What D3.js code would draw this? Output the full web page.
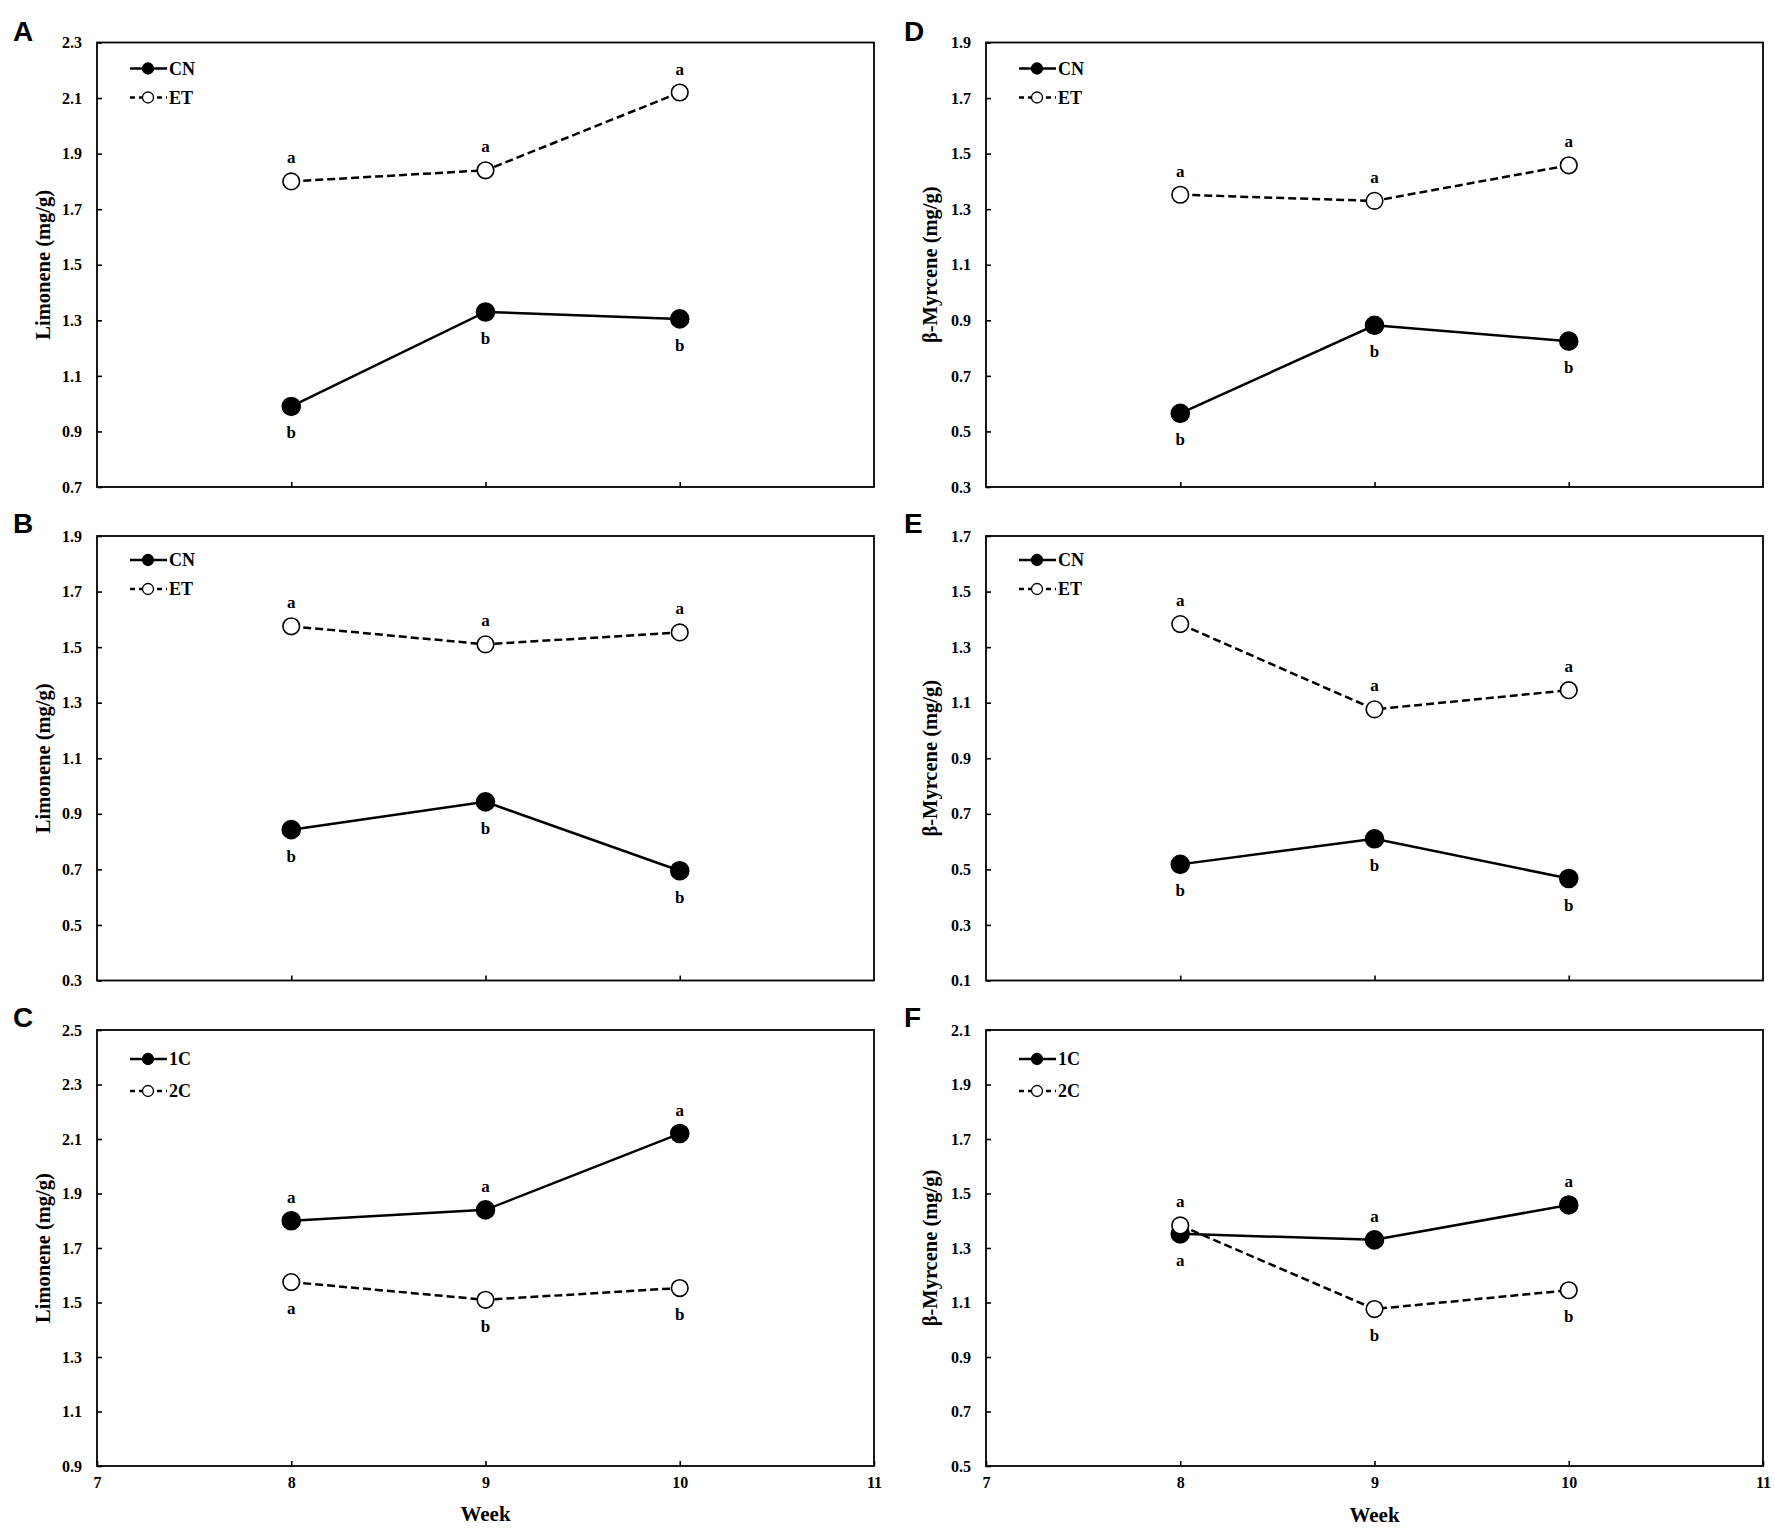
<!DOCTYPE html>
<html>
<head>
<meta charset="utf-8">
<script src="https://cdn.jsdelivr.net/npm/d3@7"></script>
<style>
  body { margin: 0; background: #fff; }
  text { font-family: "Liberation Serif", "Times New Roman", serif; font-weight: bold; }
</style>
</head>
<body>
<svg id="chart" width="1775" height="1529"></svg>
<script>
// weeks on x axis
const weeks = [8, 9, 10];
const xTicks = [7, 8, 9, 10, 11];

// Limonene (mg/g)
const limoneneA_CN = [0.99, 1.33, 1.305];
const limoneneA_ET = [1.80, 1.84, 2.12];
const limoneneB_CN = [0.843, 0.943, 0.695];
const limoneneB_ET = [1.575, 1.51, 1.553];
const limonene1C = [1.80, 1.84, 2.12];
const limonene2C = [1.575, 1.51, 1.553];

// β-Myrcene (mg/g)
const myrceneD_CN = [0.565, 0.882, 0.825];
const myrceneD_ET = [1.352, 1.33, 1.458];
const myrceneE_CN = [0.518, 0.61, 0.467];
const myrceneE_ET = [1.383, 1.076, 1.145];
const myrcene1C = [1.352, 1.33, 1.458];
const myrcene2C = [1.383, 1.076, 1.145];

// significance letters
const lettersA_CN = ["b", "b", "b"], lettersA_ET = ["a", "a", "a"];
const lettersB_CN = ["b", "b", "b"], lettersB_ET = ["a", "a", "a"];
const letters1C = ["a", "a", "a"], letters2C = ["a", "b", "b"];
const lettersD_CN = ["b", "b", "b"], lettersD_ET = ["a", "a", "a"];
const lettersE_CN = ["b", "b", "b"], lettersE_ET = ["a", "a", "a"];
const lettersF_1C = ["a", "a", "a"], lettersF_2C = ["a", "b", "b"];

// y ranges
const yDomainA = [0.7, 2.3], yDomainB = [0.3, 1.9], yDomainC = [0.9, 2.5];
const yDomainD = [0.3, 1.9], yDomainE = [0.1, 1.7], yDomainF = [0.5, 2.1];

const seriesNamesTop = ["CN", "ET"];
const seriesNamesBottom = ["1C", "2C"];

// layout (pixels)
const cols = [{ left: 97, right: 874, titleX: 43, labelX: 13 },
              { left: 986, right: 1763, titleX: 930, labelX: 904 }];
const rows = [{ top: 42.5, bottom: 487, leg: [26, 55] },
              { top: 536, bottom: 980.5, leg: [24, 53] },
              { top: 1030, bottom: 1466, leg: [29, 61] }];

const panels = [
  { label: "A", col: 0, row: 0, yTitle: "Limonene (mg/g)", domain: yDomainA, names: seriesNamesTop,
    s1: limoneneA_CN, s2: limoneneA_ET, l1: lettersA_CN, l2: lettersA_ET, pos1: "below", pos2: "above" },
  { label: "B", col: 0, row: 1, yTitle: "Limonene (mg/g)", domain: yDomainB, names: seriesNamesTop,
    s1: limoneneB_CN, s2: limoneneB_ET, l1: lettersB_CN, l2: lettersB_ET, pos1: "below", pos2: "above" },
  { label: "C", col: 0, row: 2, yTitle: "Limonene (mg/g)", domain: yDomainC, names: seriesNamesBottom,
    s1: limonene1C, s2: limonene2C, l1: letters1C, l2: letters2C, pos1: "above", pos2: "below" },
  { label: "D", col: 1, row: 0, yTitle: "β-Myrcene (mg/g)", domain: yDomainD, names: seriesNamesTop,
    s1: myrceneD_CN, s2: myrceneD_ET, l1: lettersD_CN, l2: lettersD_ET, pos1: "below", pos2: "above" },
  { label: "E", col: 1, row: 1, yTitle: "β-Myrcene (mg/g)", domain: yDomainE, names: seriesNamesTop,
    s1: myrceneE_CN, s2: myrceneE_ET, l1: lettersE_CN, l2: lettersE_ET, pos1: "below", pos2: "above" },
  { label: "F", col: 1, row: 2, yTitle: "β-Myrcene (mg/g)", domain: yDomainF, names: seriesNamesBottom,
    s1: myrcene1C, s2: myrcene2C, l1: lettersF_1C, l2: lettersF_2C, pos1: ["below", "above", "above"], pos2: ["above", "below", "below"] },
];

const svg = d3.select("#chart");

panels.forEach(drawPanel);

function drawPanel(p) {
  const c = cols[p.col], r = rows[p.row];
  const g = svg.append("g");

  const x = d3.scaleLinear().domain([7, 11]).range([c.left, c.right]);
  const y = d3.scaleLinear().domain(p.domain).range([r.bottom, r.top]);
  const yTicks = d3.range(p.domain[0], p.domain[1] + 0.01, 0.2);

  g.append("g")
    .attr("transform", `translate(${c.left},0)`)
    .call(d3.axisLeft(y).tickValues(yTicks).tickFormat(d3.format(".1f"))
      .tickSizeInner(-5).tickSizeOuter(0).tickPadding(15))
    .call(a => a.select(".domain").remove())
    .call(a => a.selectAll("text").attr("font-size", 16).attr("font-family", null));

  const isBottom = p.row === 2;
  g.append("g")
    .attr("transform", `translate(0,${r.bottom})`)
    .call(d3.axisBottom(x).tickValues(isBottom ? xTicks : weeks)
      .tickFormat(isBottom ? d3.format("d") : "")
      .tickSizeInner(-5).tickSizeOuter(0).tickPadding(11))
    .call(a => a.select(".domain").remove())
    .call(a => a.selectAll("text").attr("font-size", 16).attr("font-family", null));

  g.selectAll(".tick line").attr("stroke-width", 1.6);

  // frame
  g.append("rect")
    .attr("x", c.left).attr("y", r.top)
    .attr("width", c.right - c.left).attr("height", r.bottom - r.top)
    .attr("fill", "none").attr("stroke", "#000").attr("stroke-width", 1.8);

  // panel letter
  g.append("text")
    .attr("x", c.labelX).attr("y", p.row === 0 ? 41 : r.top - 3)
    .attr("style", "font-family: 'Liberation Sans', Arial, sans-serif")
    .attr("font-size", 28)
    .text(p.label);

  // y title
  g.append("text")
    .attr("transform", `translate(${c.titleX},${(r.top + r.bottom) / 2}) rotate(-90)`)
    .attr("text-anchor", "middle")
    .attr("dy", "0.35em")
    .attr("font-size", 20.5)
    .text(p.yTitle);

  if (isBottom) {
    g.append("text")
      .attr("x", (c.left + c.right) / 2)
      .attr("y", p.col === 0 ? 1521 : 1522)
      .attr("text-anchor", "middle")
      .attr("font-size", 21)
      .text("Week");
  }

  const line = d3.line().x((d, i) => x(weeks[i])).y(d => y(d));

  const series = [
    { values: p.s1, letters: p.l1, pos: p.pos1, filled: true },
    { values: p.s2, letters: p.l2, pos: p.pos2, filled: false },
  ];

  series.forEach(s => {
    g.append("path")
      .datum(s.values)
      .attr("d", line)
      .attr("fill", "none")
      .attr("stroke", "#000")
      .attr("stroke-width", 2.5)
      .attr("stroke-dasharray", s.filled ? null : "8,4");
  });

  series.forEach(s => {
    g.append("g")
      .selectAll("circle")
      .data(s.values)
      .join("circle")
      .attr("cx", (d, i) => x(weeks[i]))
      .attr("cy", d => y(d))
      .attr("r", s.filled ? 9 : 8.3)
      .attr("fill", s.filled ? "#000" : "#fff")
      .attr("stroke", "#000")
      .attr("stroke-width", 1.6);

    g.append("g")
      .selectAll("text")
      .data(s.values)
      .join("text")
      .attr("x", (d, i) => x(weeks[i]))
      .attr("y", (d, i) => {
        const pos = Array.isArray(s.pos) ? s.pos[i] : s.pos;
        return pos === "above" ? y(d) - 18 : y(d) + 32;
      })
      .attr("text-anchor", "middle")
      .attr("font-size", 17)
      .text((d, i) => s.letters[i]);
  });

  // legend
  const lx = c.left + 33;
  series.forEach((s, k) => {
    const ly = r.top + r.leg[k];
    g.append("line")
      .attr("x1", lx).attr("x2", lx + 37)
      .attr("y1", ly).attr("y2", ly)
      .attr("stroke", "#000").attr("stroke-width", 2.4)
      .attr("stroke-dasharray", s.filled ? null : "5,4");
    g.append("circle")
      .attr("cx", lx + 18).attr("cy", ly).attr("r", 5.5)
      .attr("fill", s.filled ? "#000" : "#fff")
      .attr("stroke", "#000").attr("stroke-width", 1.3);
    g.append("text")
      .attr("x", lx + 39).attr("y", ly)
      .attr("dy", "0.35em")
      .attr("font-size", 18)
      .text(p.names[k]);
  });
}
</script>
</body>
</html>
